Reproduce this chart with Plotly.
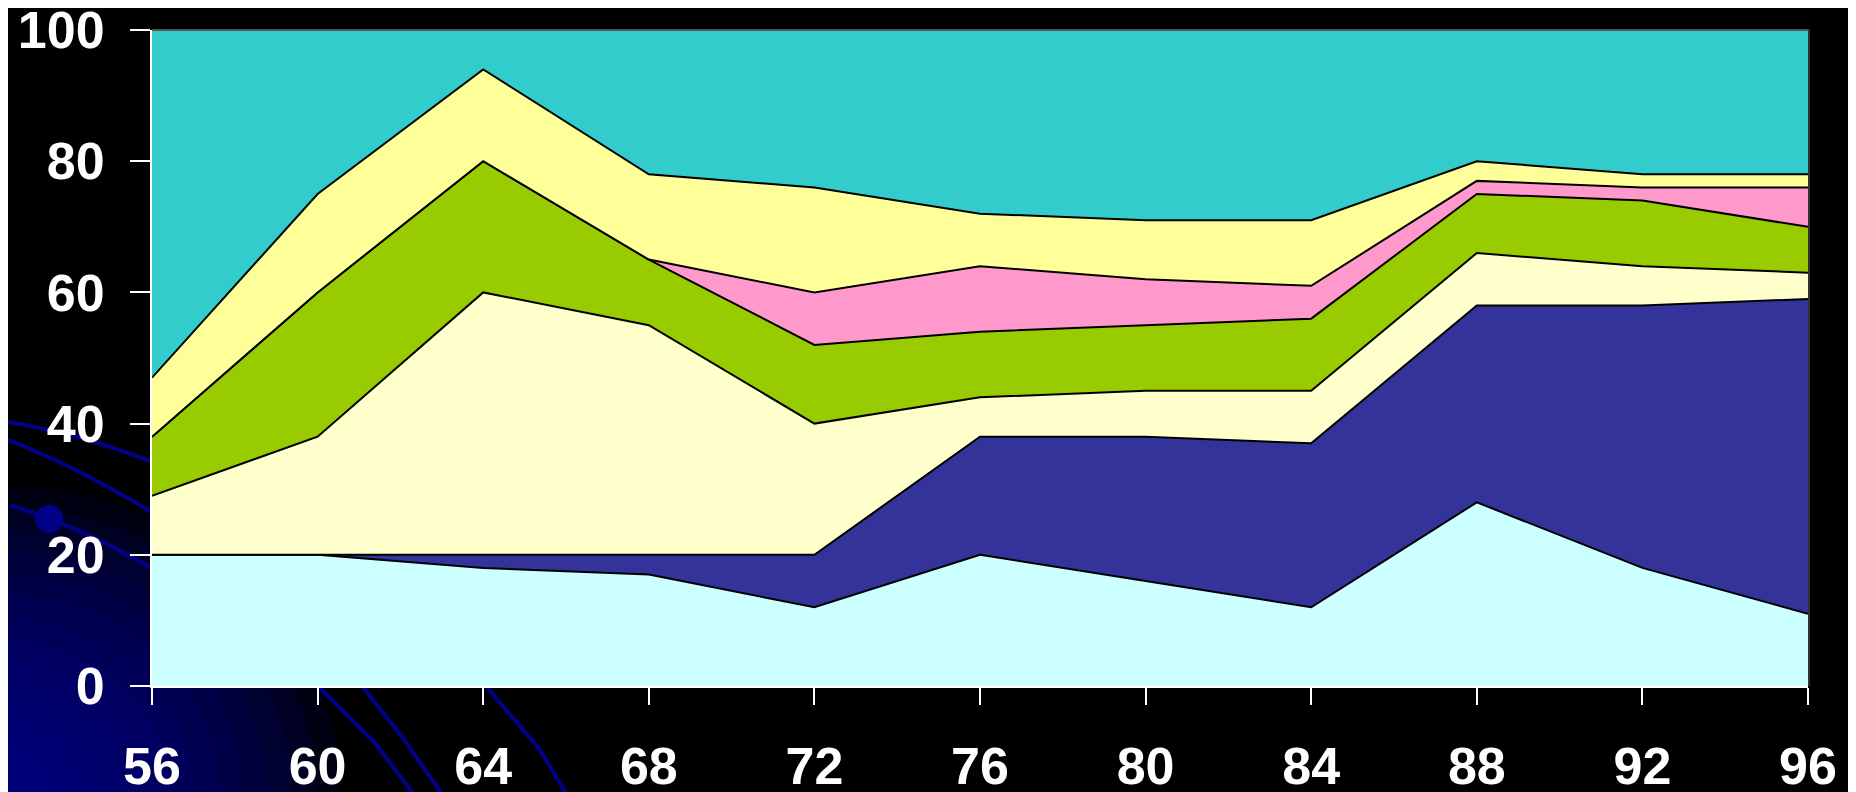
import plotly.graph_objects as go

years = [56, 60, 64, 68, 72, 76, 80, 84, 88, 92, 96]
tick_labels = ["56", "60", "64", "68", "72", "76", "80", "84", "88", "92", "96"]

layer1 = [20, 20, 18, 17, 12, 20, 16, 12, 28, 18, 11]
layer2 = [0, 0, 2, 3, 8, 18, 22, 25, 30, 40, 48]
layer3 = [9, 18, 40, 35, 20, 6, 7, 8, 8, 6, 4]
layer4 = [9, 22, 20, 10, 12, 10, 10, 11, 9, 10, 7]
layer5 = [0, 0, 0, 0, 8, 10, 7, 5, 2, 2, 6]
layer6 = [9, 15, 14, 13, 16, 8, 9, 10, 3, 2, 2]
layer7 = [53, 25, 6, 22, 24, 28, 29, 29, 20, 22, 22]

layers = [layer1, layer2, layer3, layer4, layer5, layer6, layer7]
colors = ["#CCFFFF", "#333399", "#FFFFCC", "#99CC00", "#FF99CC", "#FFFF99", "#33CCCC"]

OFF = 8  # page offset of the figure
W, H = 1856, 792
L, R, T, B = 144, 56, 22, 114
PW, PH = W - L - R, H - T - B


def px(x):
    return (x - OFF - L) / PW


def py(y):
    return (H - B - (y - OFF)) / PH


fig = go.Figure()
for i, (vals, col) in enumerate(zip(layers, colors)):
    fig.add_trace(go.Scatter(
        x=years, y=vals, stackgroup="one", mode="lines",
        line=dict(color="black", width=0 if i == len(layers) - 1 else 2),
        fillcolor=col, hoverinfo="skip", showlegend=False,
    ))

shapes = []
# background radial glow in the bottom-left corner
N = 14
Rg = 340
for k in range(N, 0, -1):
    r = Rg * k / N
    shapes.append(dict(type="circle", xref="paper", yref="paper", layer="below",
                       x0=px(-r), x1=px(r), y0=py(792 + r * 0.9), y1=py(792 - r * 0.9),
                       fillcolor="#000090", opacity=0.13, line=dict(width=0)))

navy = "#00008B"
curves = [
    "M {} {} Q {} {} {} {}".format(px(-5), py(420), px(80), py(432), px(165), py(467)),
    "M {} {} Q {} {} {} {}".format(px(-5), py(435), px(70), py(462), px(165), py(520)),
    "M {} {} Q {} {} {} {}".format(px(10), py(505), px(90), py(530), px(165), py(576)),
    "M {} {} L {} {} L {} {}".format(px(318), py(686), px(375), py(743), px(418), py(800)),
    "M {} {} L {} {} L {} {}".format(px(362), py(686), px(403), py(738), px(446), py(800)),
    "M {} {} L {} {} L {} {}".format(px(486), py(686), px(540), py(750), px(570), py(800)),
]
for c in curves:
    shapes.append(dict(type="path", path=c, xref="paper", yref="paper", layer="below",
                       line=dict(color=navy, width=4)))
shapes.append(dict(type="circle", xref="paper", yref="paper", layer="below",
                   x0=px(35), x1=px(63), y0=py(533), y1=py(505),
                   fillcolor="#000088", line=dict(width=0)))
# thin grey frame top and right
shapes.append(dict(type="line", xref="paper", yref="paper", layer="above",
                   x0=0, x1=px(1809), y0=py(30), y1=py(30), line=dict(color="#555555", width=2)))
shapes.append(dict(type="line", xref="paper", yref="paper", layer="above",
                   x0=px(1809), x1=px(1809), y0=py(30), y1=0, line=dict(color="#333333", width=2)))

font = dict(family="Liberation Sans, Arial, sans-serif", size=52, color="white", weight="bold")

fig.update_layout(
    width=W, height=H,
    margin=dict(l=L, r=R, t=T, b=B, pad=0, autoexpand=False),
    paper_bgcolor="black", plot_bgcolor="rgba(0,0,0,0)",
    shapes=shapes,
    xaxis=dict(range=[56, 96], tickvals=years, ticktext=tick_labels, showgrid=False,
               zeroline=False, showline=True, linecolor="white", linewidth=2,
               ticks="outside", ticklen=17, tickwidth=2, tickcolor="white",
               tickfont=font, ticklabelstandoff=17, automargin=False,
               ticklabeloverflow="allow"),
    yaxis=dict(range=[0, 100], tickvals=[0, 20, 40, 60, 80, 100], showgrid=False,
               zeroline=False, showline=True, linecolor="white", linewidth=2,
               ticks="outside", ticklen=20, tickwidth=2, tickcolor="white",
               tickfont=font, ticklabelstandoff=15, automargin=False,
               ticklabeloverflow="allow"),
)

fig.write_html("out.html")
